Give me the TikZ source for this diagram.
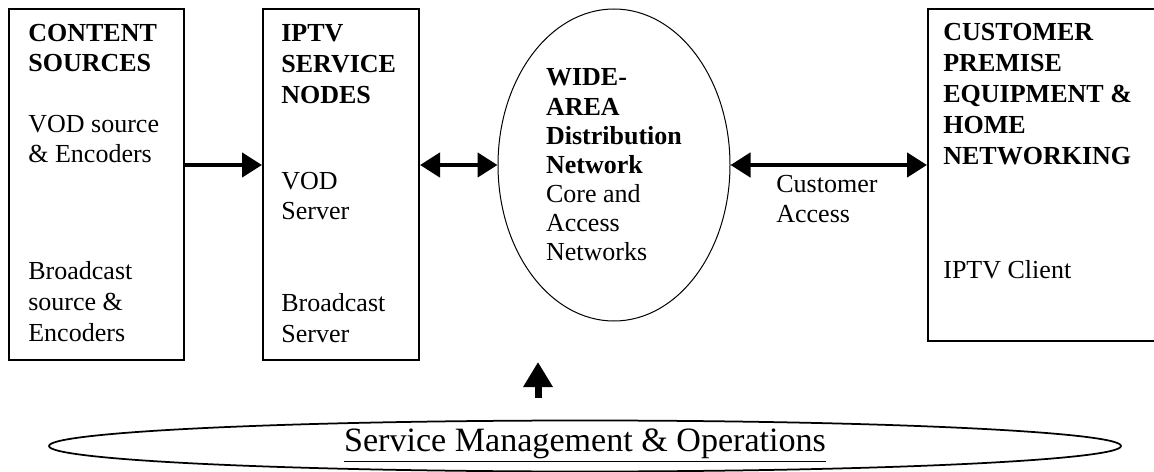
\documentclass[tikz,border=0pt]{standalone}
\usepackage{fontspec}
\setmainfont{Liberation Serif}
\usetikzlibrary{positioning, arrows.meta, shapes.geometric}

\begin{document}
\begin{tikzpicture}[
    unit/.style={rectangle, draw, line width=0.4mm, inner sep=0pt},
    cloud/.style={ellipse, draw, line width=0.2mm, inner sep=0pt,
                  align=left, font=\fontsize{14.8}{16.6}\selectfont},
    head/.style={anchor=west, inner sep=0pt, align=left,
                 font=\fontsize{14.8}{17.6}\selectfont\bfseries},
    body/.style={anchor=west, inner sep=0pt, align=left,
                 font=\fontsize{14.8}{17.6}\selectfont},
    arrow/.style={-{Triangle[length=4mm, width=4.8mm]}, line width=0.9mm},
    dblarrow/.style={{Triangle[length=4mm, width=4.8mm]}-{Triangle[length=4mm, width=4.8mm]},
                     line width=0.9mm},
    uparrow/.style={-{Triangle[length=5mm, width=5.6mm]}, line width=1.4mm}
]
  \useasboundingbox (0,0) rectangle (230.8mm,-94.4mm);

  % --- Content sources (left) ---
  \node[unit, minimum width=35mm, minimum height=70.2mm] (src) at (19.3mm, -36.9mm) {};
  \node[head] (srcH) at (5.6mm, -9.6mm) {CONTENT\\SOURCES};
  \node[body] (srcVod) at (5.6mm, -27.8mm) {VOD source\\\& Encoders};
  \node[body] (srcBc) at (5.6mm, -60.4mm) {Broadcast\\source \&\\Encoders};

  % --- IPTV service nodes ---
  \node[unit, minimum width=31.2mm, minimum height=70.2mm] (svc) at (68.2mm, -36.9mm) {};
  \node[head] (svcH) at (56.2mm, -12.8mm) {IPTV\\SERVICE\\NODES};
  \node[body] (svcVod) at (56.2mm, -39.2mm) {VOD\\Server};
  \node[body] (svcBc) at (56.2mm, -63.6mm) {Broadcast\\Server};

  % --- Wide-area network ---
  \node[cloud, minimum width=46.4mm, minimum height=62.4mm] (wan) at (122.8mm, -33mm)
    {\textbf{WIDE-}\\\textbf{AREA}\\\textbf{Distribution}\\\textbf{Network}\\Core and\\Access\\Networks};

  % --- Customer premises (right) ---
  \node[unit, minimum width=46.4mm, minimum height=66.4mm] (cpe) at (208.8mm, -35mm) {};
  \node[head] (cpeH) at (188.6mm, -18.8mm) {CUSTOMER\\PREMISE\\EQUIPMENT \&\\HOME\\NETWORKING};
  \node[body] (cpeClient) at (188.6mm, -54mm) {IPTV Client};

  \draw[arrow] (src.east |- wan) -- (svc.west |- wan);
  \draw[dblarrow] (svc.east |- wan) -- (wan.west);
  \draw[dblarrow] (wan.east) -- (cpe.west |- wan);
  \node[body] (access) at (155.2mm, -39.8mm) {Customer\\Access};

  % --- Management layer ---
  \node[ellipse, draw, line width=0.35mm, inner sep=0pt,
        minimum width=214.4mm, minimum height=10.2mm,
        font=\fontsize{19.4}{20}\selectfont] (mgmt) at (117mm, -89.2mm)
    {\underline{Service Management \& Operations}};

  \coordinate (mgmtBase) at (107.6mm, -79.6mm);
  \coordinate (mgmtTip) at (107.6mm, -72.4mm);
  \draw[uparrow] (mgmtBase) -- (mgmtTip);

\end{tikzpicture}
\end{document}
